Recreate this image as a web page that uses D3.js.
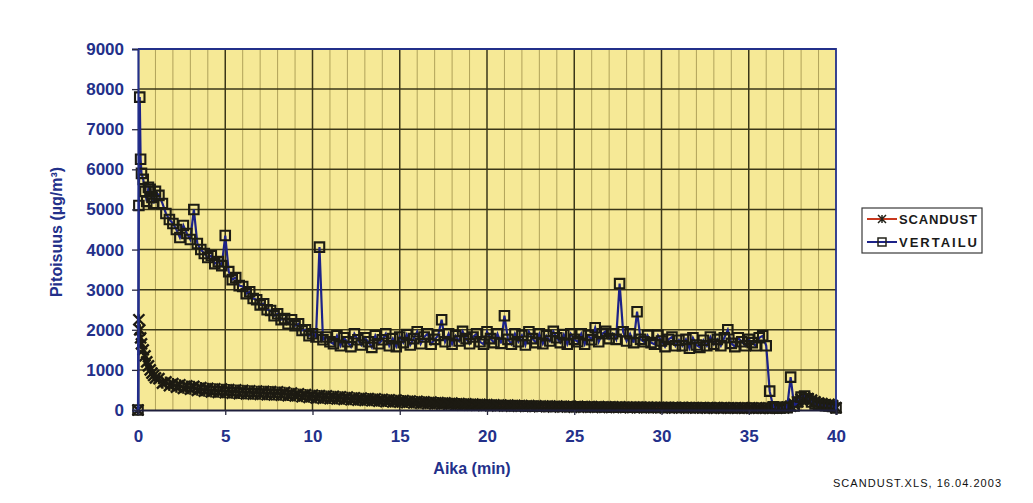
<!DOCTYPE html>
<html>
<head>
<meta charset="utf-8">
<script src="https://cdn.jsdelivr.net/npm/d3@7/dist/d3.min.js"></script>
<style>
  html, body { margin: 0; padding: 0; background: #ffffff; }
  svg { display: block; font-family: 'Liberation Sans', Arial, sans-serif; }
</style>
</head>
<body>
<div id="chart"></div>
<script>
'use strict';

// sample times (min)
const aika = [
  0, 0.05, 0.1, 0.15, 0.2, 0.3, 0.4, 0.5, 0.6, 0.7, 0.8, 0.9, 1.0,
  1.2, 1.4, 1.6, 1.8, 2.0, 2.2, 2.4, 2.6, 2.8, 3.0,
  3.2, 3.4, 3.6, 3.8, 4.0, 4.2, 4.4, 4.6, 4.8, 5.0,
  5.2, 5.4, 5.6, 5.8, 6.0, 6.2, 6.4, 6.6, 6.8, 7.0,
  7.2, 7.4, 7.6, 7.8, 8.0, 8.2, 8.4, 8.6, 8.8, 9.0,
  9.2, 9.4, 9.6, 9.8, 10.0, 10.2, 10.4, 10.6, 10.8, 11.0,
  11.2, 11.4, 11.6, 11.8, 12.0, 12.2, 12.4, 12.6, 12.8, 13.0,
  13.2, 13.4, 13.6, 13.8, 14.0, 14.2, 14.4, 14.6, 14.8, 15.0,
  15.2, 15.4, 15.6, 15.8, 16.0, 16.2, 16.4, 16.6, 16.8, 17.0,
  17.2, 17.4, 17.6, 17.8, 18.0, 18.2, 18.4, 18.6, 18.8, 19.0,
  19.2, 19.4, 19.6, 19.8, 20.0, 20.2, 20.4, 20.6, 20.8, 21.0,
  21.2, 21.4, 21.6, 21.8, 22.0, 22.2, 22.4, 22.6, 22.8, 23.0,
  23.2, 23.4, 23.6, 23.8, 24.0, 24.2, 24.4, 24.6, 24.8, 25.0,
  25.2, 25.4, 25.6, 25.8, 26.0, 26.2, 26.4, 26.6, 26.8, 27.0,
  27.2, 27.4, 27.6, 27.8, 28.0, 28.2, 28.4, 28.6, 28.8, 29.0,
  29.2, 29.4, 29.6, 29.8, 30.0, 30.2, 30.4, 30.6, 30.8, 31.0,
  31.2, 31.4, 31.6, 31.8, 32.0, 32.2, 32.4, 32.6, 32.8, 33.0,
  33.2, 33.4, 33.6, 33.8, 34.0, 34.2, 34.4, 34.6, 34.8, 35.0,
  35.2, 35.4, 35.6, 35.8, 36.0, 36.2, 36.4, 36.6, 36.8, 37.0,
  37.2, 37.4, 37.6, 37.8, 38.0, 38.2, 38.4, 38.6, 38.8, 39.0,
  39.2, 39.4, 39.6, 39.8, 40.0
];

// SCANDUST (µg/m3)
const scandust = [
  0, 2250, 2000, 1800, 1650, 1500, 1350, 1200, 1100, 1000, 920, 860, 800,
  780, 670, 700, 610, 660, 570, 630, 540, 600, 520,
  590, 490, 560, 470, 540, 450, 530, 440, 520, 430,
  510, 420, 500, 410, 490, 400, 480, 395, 470, 390,
  465, 380, 460, 375, 450, 370, 440, 360, 420, 350,
  400, 330, 385, 315, 370, 300, 360, 290, 350, 285,
  340, 275, 330, 265, 320, 255, 305, 245, 295, 240,
  285, 230, 275, 220, 265, 210, 255, 200, 245, 195,
  235, 185, 225, 175, 215, 168, 205, 160, 195, 155,
  185, 148, 178, 142, 170, 136, 162, 130, 155, 125,
  148, 118, 142, 112, 136, 108, 130, 104, 125, 100,
  120, 96, 116, 93, 112, 90, 108, 88, 105, 85,
  100, 82, 97, 80, 95, 78, 92, 76, 90, 74,
  88, 72, 86, 70, 84, 68, 82, 67, 80, 65,
  78, 64, 76, 62, 75, 61, 73, 60, 72, 58,
  70, 57, 68, 56, 67, 55, 66, 54, 64, 53,
  63, 52, 62, 51, 61, 50, 60, 49, 59, 48,
  58, 47, 57, 46, 56, 45, 55, 45, 54, 44,
  53, 44, 52, 43, 51, 42, 50, 46, 58, 55,
  75, 95, 140, 210, 270, 310, 285, 245, 205, 175,
  160, 135, 140, 110, 60
];

// VERTAILU (µg/m3)
const vertailu = [
  0, 5100, 7800, 6250, 5900, 5750, 5450, 5200, 5550, 5500, 5300, 5150, 5450,
  5350, 5150, 4900, 4750, 4650, 4500, 4300, 4600, 4400, 4250,
  5000, 4150, 4000, 3900, 3800, 3850, 3650, 3700, 3600, 4350,
  3450, 3250, 3300, 3100, 3080, 2900, 2950, 2780, 2750, 2620,
  2650, 2500, 2480, 2350, 2400, 2250, 2280, 2150, 2250, 2100,
  2150, 1980, 2000, 1850, 1900, 1820, 4060, 1750, 1820, 1700,
  1650, 1850, 1600, 1800, 1700, 1580, 1900, 1750, 1620, 1800,
  1700, 1560, 1850, 1650, 1750, 1900, 1600, 1780, 1580, 1820,
  1680, 1880, 1620, 1780, 1950, 1650, 1820, 1900, 1640, 1760,
  1860, 2250, 1700, 1900, 1640, 1850, 1720, 1960, 1780, 1650,
  1820, 1900, 1700, 1640, 1950, 1780, 1680, 1900, 1660, 2350,
  1760, 1640, 1900, 1700, 1860, 1620, 1950, 1780, 1680, 1900,
  1650, 1850, 1720, 1960, 1800, 1680, 1880, 1640, 1900, 1760,
  1700, 1900, 1640, 1860, 1750, 2050, 1700, 1900, 1960, 1780,
  1900, 1760, 3150, 1950, 1720, 1900, 1680, 2450, 1760, 1700,
  1860, 1680, 1640, 1860, 1720, 1580, 1760, 1820, 1600, 1740,
  1600, 1760, 1540, 1800, 1620, 1560, 1740, 1600, 1820, 1640,
  1760, 1600, 1800, 2000, 1660, 1580, 1800, 1700, 1600, 1760,
  1680, 1600, 1800, 1850, 1600, 470, 80, 60, 50, 70,
  60, 820, 100, 200, 320, 350, 280, 200, 150, 130,
  120, 110, 100, 90, 50
];

const xTicks = [0, 5, 10, 15, 20, 25, 30, 35, 40];
const yTicks = [0, 1000, 2000, 3000, 4000, 5000, 6000, 7000, 8000, 9000];
const minorX = d3.range(0, 41, 1);

const width = 1033, height = 503;
const plot = {left: 138, right: 836, top: 49, bottom: 410};
const navy = '#23308a';

const svg = d3.select('#chart').append('svg')
  .attr('width', width)
  .attr('height', height);

const x = d3.scaleLinear().domain([0, 40]).range([plot.left, plot.right]);
const y = d3.scaleLinear().domain([0, 9000]).range([plot.bottom, plot.top]);

// plot background
svg.append('rect')
  .attr('x', plot.left).attr('y', plot.top)
  .attr('width', plot.right - plot.left)
  .attr('height', plot.bottom - plot.top)
  .attr('fill', '#f6e996');

// minor vertical grid
svg.append('g').selectAll('line')
  .data(minorX.filter(d => d % 5 !== 0))
  .join('line')
  .attr('x1', d => x(d)).attr('x2', d => x(d))
  .attr('y1', plot.top).attr('y2', plot.bottom)
  .attr('stroke', '#b0a25a')
  .attr('stroke-width', 1);

// major grid
svg.append('g').selectAll('line')
  .data(xTicks.slice(1, -1))
  .join('line')
  .attr('x1', d => x(d)).attr('x2', d => x(d))
  .attr('y1', plot.top).attr('y2', plot.bottom)
  .attr('stroke', '#3a3618')
  .attr('stroke-width', 1.5);

svg.append('g').selectAll('line')
  .data(yTicks.slice(1, -1))
  .join('line')
  .attr('x1', plot.left).attr('x2', plot.right)
  .attr('y1', d => y(d)).attr('y2', d => y(d))
  .attr('stroke', '#3a3618')
  .attr('stroke-width', 1.5);

const pts = (vals) => vals.map((v, i) => [aika[i], v]);
const line = d3.line().x(d => x(d[0])).y(d => y(d[1]));

function starPath(r) {
  return 'M' + (-r) + ',' + (-r) + 'L' + r + ',' + r +
         'M' + (-r) + ',' + r + 'L' + r + ',' + (-r) +
         'M0,' + (-r) + 'L0,' + r;
}
const square = d3.symbol(d3.symbolSquare, 90)();
const squareSmall = d3.symbol(d3.symbolSquare, 64)();

// SCANDUST series
const sc = svg.append('g');
sc.append('path')
  .datum(pts(scandust))
  .attr('d', line)
  .attr('fill', 'none')
  .attr('stroke', '#c8381e')
  .attr('stroke-width', 1.5);
sc.selectAll('path.m')
  .data(pts(scandust))
  .join('path')
  .attr('class', 'm')
  .attr('transform', d => 'translate(' + x(d[0]) + ',' + y(d[1]) + ')')
  .attr('d', starPath(5.5))
  .attr('fill', 'none')
  .attr('stroke', '#1c1a12')
  .attr('stroke-width', 2.4);

// VERTAILU series
const ve = svg.append('g');
ve.append('path')
  .datum(pts(vertailu))
  .attr('d', line)
  .attr('fill', 'none')
  .attr('stroke', '#1c2288')
  .attr('stroke-width', 2.2);
ve.selectAll('path.m')
  .data(pts(vertailu))
  .join('path')
  .attr('class', 'm')
  .attr('transform', d => 'translate(' + x(d[0]) + ',' + y(d[1]) + ')')
  .attr('d', square)
  .attr('fill', 'none')
  .attr('stroke', '#1d1c14')
  .attr('stroke-width', 2.1);

// frame
svg.append('path')
  .attr('d', 'M' + plot.left + ',' + plot.top + 'H' + plot.right + 'V' + plot.bottom)
  .attr('fill', 'none')
  .attr('stroke', navy)
  .attr('stroke-width', 1.8);

// axes
const yAxis = svg.append('g')
  .attr('transform', 'translate(' + plot.left + ',0)')
  .call(d3.axisLeft(y).tickValues(yTicks).tickFormat(d3.format('d')).tickSize(6).tickPadding(8));
const xAxis = svg.append('g')
  .attr('transform', 'translate(0,' + plot.bottom + ')')
  .call(d3.axisBottom(x).tickValues(xTicks).tickFormat(d3.format('d')).tickSize(5).tickPadding(15));

[yAxis, xAxis].forEach(function(ax) {
  ax.select('.domain').attr('stroke', navy).attr('stroke-width', 2.2);
  ax.selectAll('.tick line').attr('stroke', '#2a2a40').attr('stroke-width', 1.3);
  ax.selectAll('.tick text')
    .attr('fill', navy)
    .style('font-size', '17px')
    .style('font-weight', 'bold')
    .style('font-family', "'Liberation Sans', Arial, sans-serif");
});
xAxis.select('.domain').attr('stroke', '#1e1e3c');

// axis titles
svg.append('text')
  .attr('transform', 'translate(62,232) rotate(-90)')
  .attr('text-anchor', 'middle')
  .attr('fill', navy)
  .style('font-size', '16px')
  .style('font-weight', 'bold')
  .text('Pitoisuus (µg/m³)');

svg.append('text')
  .attr('x', 472).attr('y', 474)
  .attr('text-anchor', 'middle')
  .attr('fill', navy)
  .style('font-size', '16px')
  .style('font-weight', 'bold')
  .text('Aika (min)');

// footer
svg.append('text')
  .attr('x', 833).attr('y', 487)
  .attr('fill', '#111')
  .attr('textLength', 168)
  .style('font-size', '11px')
  .text('SCANDUST.XLS, 16.04.2003');

// legend
const legend = svg.append('g');
legend.append('rect')
  .attr('x', 862).attr('y', 208)
  .attr('width', 120).attr('height', 45)
  .attr('fill', '#ffffff')
  .attr('stroke', '#3a3a3a')
  .attr('stroke-width', 1.2);

const legendItems = [
  {name: 'SCANDUST', line: '#c8381e', mark: starPath(4), y: 219},
  {name: 'VERTAILU', line: '#1c2288', mark: squareSmall, y: 242}
];
legendItems.forEach(function(it) {
  legend.append('line')
    .attr('x1', 867).attr('x2', 897)
    .attr('y1', it.y).attr('y2', it.y)
    .attr('stroke', it.line)
    .attr('stroke-width', 2);
  legend.append('path')
    .attr('transform', 'translate(882,' + it.y + ')')
    .attr('d', it.mark)
    .attr('fill', 'none')
    .attr('stroke', '#22221a')
    .attr('stroke-width', 1.5);
  legend.append('text')
    .attr('x', 899).attr('y', it.y + 5)
    .attr('fill', '#1a1a1a')
    .attr('textLength', 78)
    .style('font-size', '13px')
    .style('font-weight', 'bold')
    .text(it.name);
});
</script>
</body>
</html>
